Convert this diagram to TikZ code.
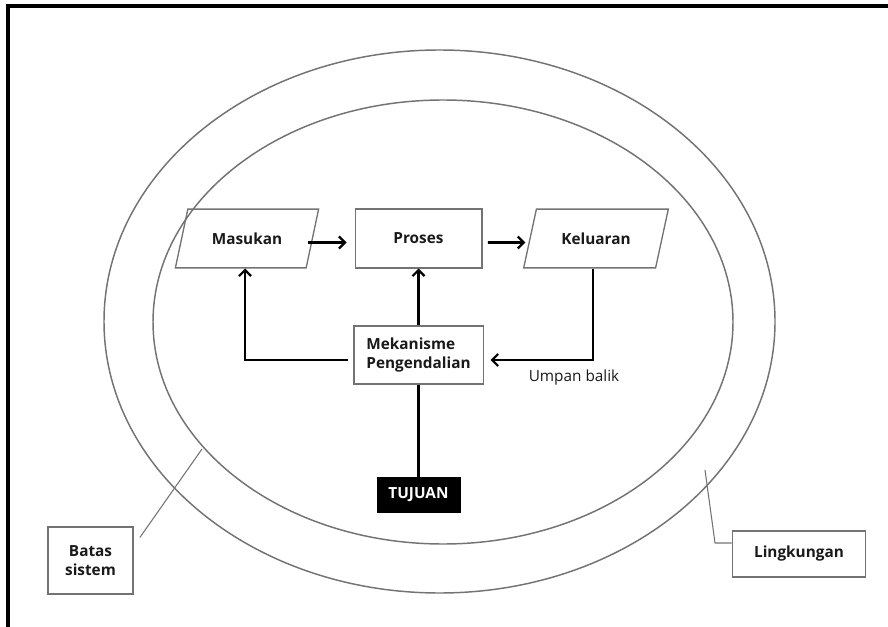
\documentclass[tikz,border=0pt]{standalone}
\usepackage{fontspec}
\setmainfont{Open Sans}
\usetikzlibrary{arrows.meta,shapes.geometric,calc}

\tikzset{
  boundary/.style={draw=black!55, line width=1.1pt},
  box/.style={draw=black!55, line width=1pt, rectangle, inner sep=0pt,
    font=\bfseries\fontsize{11.5}{14}\selectfont, text=black!90},
  slanted/.style={box, trapezium, trapezium stretches=true,
    trapezium left angle=58, trapezium right angle=122},
  flow/.style={line width=1.9pt, -{Straight Barb[length=4.5pt,width=9pt,line width=1.7pt]}},
  link/.style={line width=1.8pt},
  leader/.style={draw=black!55, line width=0.8pt},
  labelbox/.style={box, line width=1.1pt}
}

\begin{document}
\begin{tikzpicture}[x=0.75pt, y=-0.75pt]
  \useasboundingbox (0,0) rectangle (888,627);

  % outer frame (left and top edges)
  \draw[line width=2.3pt] (8,627) -- (8,6) -- (888,6);

  % environment and system boundary
  \draw[boundary] (439.5,321.5) ellipse [x radius=335.5, y radius=271.5];
  \draw[boundary] (443,322) ellipse [x radius=290, y radius=222];

  % system components
  \node[slanted, minimum width=108pt, minimum height=44pt] (mas) at (247,238.5) {Masukan};
  \node[box, minimum width=95pt, minimum height=44pt] (pro) at (418.5,238.5) {Proses};
  \node[slanted, minimum width=109pt, minimum height=44pt] (kel) at (596,238.5) {Keluaran};
  \node[box, minimum width=97pt, minimum height=43.5pt, align=left] (mek) at (418.5,355)
    {Mekanisme\\Pengendalian};
  \node[box, draw=black, fill=black, text=white, minimum width=62pt, minimum height=26pt]
    (tuj) at (418.5,494.5) {TUJUAN};
  \node[font=\fontsize{11.5}{13}\selectfont, text=black!90] (umb) at (574,378) {Umpan balik};

  % labels
  \node[labelbox, minimum width=64pt, minimum height=50pt, align=center] (bat) at (90.5,560.5)
    {Batas\\sistem};
  \node[labelbox, minimum width=100pt, minimum height=34.5pt] (lin) at (799,554) {Lingkungan};

  % main flow
  \draw[flow, shorten >=6pt] ($(mas.east)+(-5,4)$) -- ($(pro.west)+(0,4)$);
  \draw[flow, shorten <=4pt] ($(pro.east)+(0,4)$) -- ($(kel.west)+(-4,4)$);

  % control connections
  \draw[flow, shorten <=4pt] ($(mek.west)+(0,5)$) -| ($(mas.south)+(-2,0)$);
  \draw[flow] (mek.north) -- (pro.south);
  \draw[flow, shorten >=5pt] ($(kel.south)+(-3,0)$) |- ($(mek.east)+(0,5)$);
  \draw[link] (mek.south) -- (tuj.north);

  % leader lines
  \coordinate (batEnd) at (202,449);
  \coordinate (linEnd) at (705,470);
  \draw[leader] ($(bat.north east)+(6,11)$) -- (batEnd);
  \draw[leader] (linEnd) -- (715,543) -- (lin.west |- 0,543);
\end{tikzpicture}
\end{document}
